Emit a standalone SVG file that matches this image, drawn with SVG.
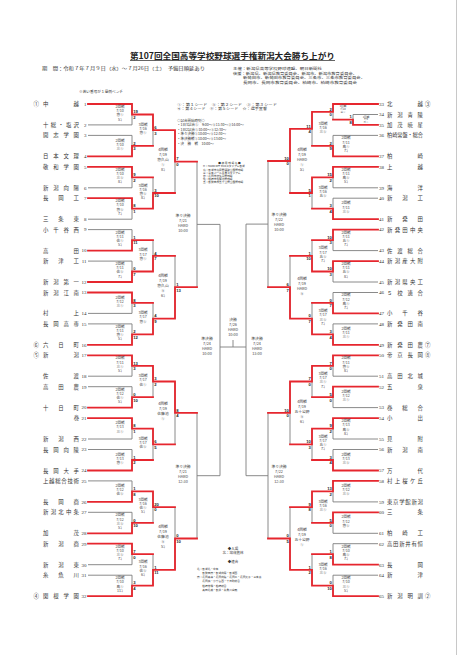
<svg xmlns="http://www.w3.org/2000/svg" width="467" height="655" viewBox="0 0 467 655">
<style>
text{font-family:"Noto Sans CJK JP","Noto Sans",sans-serif;fill:#333}
.t{font-size:8.2px;font-weight:bold;fill:#222}
.h{font-size:4.4px}
.xs{font-size:3.5px}
.v{font-size:2.7px}
.n{font-size:5.4px}
.num{font-size:5px;font-family:"Liberation Serif",serif}
.lb{font-size:3.6px;text-anchor:middle;fill:#444}
.lb5{font-size:3.8px;text-anchor:middle;fill:#444}
.tiny{font-size:2.6px;text-anchor:middle;fill:#444}
.sc{font-size:4.2px;font-weight:bold;font-family:"Liberation Sans",sans-serif;fill:#222}
.se{font-size:4.2px;font-weight:bold;font-family:"Liberation Sans",sans-serif;fill:#222;text-anchor:end}
.g{fill:none;stroke:#7d7d7d;stroke-width:0.9}
.r{fill:none;stroke:#e6262e;stroke-width:1.8;stroke-linecap:square}
</style>
<rect width="467" height="655" fill="#fff"/>
<line x1="456.5" y1="0" x2="456.5" y2="655" stroke="#c8c8c8" stroke-width="1"/>

<g id="header">
<text class="t" x="130" y="58.5" textLength="205" lengthAdjust="spacingAndGlyphs">第107回全国高等学校野球選手権新潟大会勝ち上がり</text>
<line x1="130" y1="60.5" x2="335" y2="60.5" stroke="#222" stroke-width="0.7"/>
<text class="h" x="42" y="69.5" textLength="163" lengthAdjust="spacingAndGlyphs">期　間：令和７年７月９日（水）～７月26日（土）　予備日順延あり</text>
<text class="xs" x="233" y="69.5" textLength="89" lengthAdjust="spacingAndGlyphs">主催：新潟県高等学校野球連盟、朝日新聞社</text>
<text class="xs" x="233" y="74.5" textLength="124" lengthAdjust="spacingAndGlyphs">後援：新潟県、新潟県教育委員会、新潟市、新潟市教育委員会、</text>
<text class="xs" x="243" y="79.3" textLength="122" lengthAdjust="spacingAndGlyphs">新発田市、新発田市教育委員会、三条市、三条市教育委員会、</text>
<text class="xs" x="243" y="84" textLength="114" lengthAdjust="spacingAndGlyphs">長岡市、長岡市教育委員会、柏崎市、柏崎市教育委員会</text>
<text class="xs" x="79" y="93.3" textLength="44" lengthAdjust="spacingAndGlyphs">※若い番号が１塁側ベンチ</text>
</g>

<g id="notes">
<text class="xs" x="177" y="105.6" textLength="100" lengthAdjust="spacingAndGlyphs">①：第１シード　②：第２シード　③：第３シード</text>
<text class="xs" x="177" y="109.6" textLength="90" lengthAdjust="spacingAndGlyphs">④：第４シード　⑤：第５シード　☆：選手宣誓</text>
<text class="xs" x="177" y="122">◇試合開始時刻◇</text>
<text class="xs" x="177" y="126.3">・1日3試合①　9:00～②11:30～③14:00～</text>
<text class="xs" x="177" y="131">・1日2試合①10:00～②12:30～</text>
<text class="xs" x="177" y="135.3">・準々決勝①10:00～②12:30～</text>
<text class="xs" x="177" y="140">・準決勝戦①10:00～②13:00～</text>
<text class="xs" x="177" y="144.6">・決　勝　戦　10:00～</text>
<text class="v" x="229.5" y="163.8" text-anchor="middle">■ 使 用 球 場 名 ■</text>
<text class="v" x="203" y="167.4">H：HARD OFF ECOスタジアム新潟</text>
<text class="v" x="203" y="170.5">鳥：新潟市鳥屋野運動公園野球場</text>
<text class="v" x="203" y="173.6">三：三条パール金属スタジアム</text>
<text class="v" x="203" y="176.7">悠：長岡市悠久山野球場</text>
<text class="v" x="203" y="179.8">佐：柏崎市佐藤池野球場</text>
<text class="v" x="203" y="182.9">五：新発田市五十公野公園野球場</text>
<text class="xs" x="233" y="549.6" text-anchor="middle">◆入場</text>
<text class="xs" x="233" y="554" text-anchor="middle">北：加茂農林</text>
<text class="xs" x="233" y="562.5" text-anchor="middle">◆連合</text>
<text class="v" x="197" y="569.5">北：新潟北・中条</text>
<text class="v" x="197" y="573.8">　　新発田南・新潟向陽・新潟西</text>
<text class="v" x="197" y="578.1">南：長岡高専・長岡向陵・長岡工・長岡大手・三条東</text>
<text class="v" x="197" y="582.4">　　長岡商・小千谷西・十日町総合</text>
<text class="v" x="197" y="586.7">　　柏崎常盤・柏崎総合</text>
<text class="v" x="197" y="591">　　高田北城・新井・糸魚川白嶺</text>
</g>

<g id="connectors">
<path class="g" d="M88 124.9H132M88 135.4H132M88 187.8H132M88 219.2H132M88 229.6H132M88 261.1H132M88 313.4H132M88 323.9H132M88 376.2H132M88 386.7H132M88 439H132M88 449.5H132M88 480.9H132M88 512.3H132M88 564.7H132M88 575.2H132
M132 104V124.9M132 135.4V156.4M132 166.8V187.8M132 198.2V219.2M132 229.6V250.6M132 261.1V282M132 292.5V313.4M132 323.9V344.8M132 355.3V376.2M132 386.7V407.6M132 418.1V439M132 449.5V470.5M132 480.9V501.9M132 512.3V533.3M132 543.7V564.7M132 575.2V596.1
M153 114.5V145.9M153 177.3V208.7M153 240.1V271.5M153 302.9V334.3M153 365.8V397.2M153 428.6V460M153 491.4V522.8M153 554.2V585.6
M175 130.2V193M175 255.8V318.6M175 381.5V444.3M175 507.1V569.9
M197 161.6V287.2M197 412.9V538.5M197 224.4H220M197 475.7H220M220 224.4V475.7M220 347H246M233 340V347
M353 114.5H378M333 135.4H378M333 187.8H378M333 198.2H378M333 250.6H378M333 282H378M333 292.5H378M333 323.9H378M333 376.2H378M333 407.6H378M333 439H378M333 449.5H378M333 501.9H378M333 533.3H378M333 543.7H378M333 575.2H378
M353 114.5V124.9
M333 104V119.7M333 135.4V156.4M333 166.8V187.8M333 198.2V219.2M333 229.6V250.6M333 261.1V282M333 292.5V313.4M333 323.9V344.8M333 355.3V376.2M333 386.7V407.6M333 418.1V439M333 449.5V470.5M333 480.9V501.9M333 512.3V533.3M333 543.7V564.7M333 575.2V596.1
M312 111.8V145.9M312 177.3V208.7M312 240.1V271.5M312 302.9V334.3M312 365.8V397.2M312 428.6V460M312 491.4V522.8M312 554.2V585.6
M290 128.9V193M290 255.8V318.6M290 381.5V444.3M290 507.1V569.9
M268 161V287.2M268 412.9V538.5M268 224.1H246M268 475.7H246M246 224.1V475.7"/>
<path class="r" d="M88 104H132V114.5H153M88 156.4H132V145.9H153M88 166.8H132V177.3H153M88 198.2H132V208.7H153M88 250.6H132V240.1H153M88 282H132V271.5H153M88 292.5H132V302.9H153M88 344.8H132V334.3H153M88 355.3H132V365.8H153M88 407.6H132V397.2H153M88 418.1H132V428.6H153M88 470.5H132V460H153M88 501.9H132V491.4H153M88 533.3H132V522.8H153M88 543.7H132V554.2H153M88 596.1H132V585.6H153
M153 114.5V130.2H175M153 208.7V193H175M153 271.5V255.8H175M153 334.3V318.6H175M153 365.8V381.5H175M153 428.6V444.3H175M153 491.4V507.1H175M153 585.6V569.9H175
M175 130.2V161.6H197M175 318.6V287.2H197M175 381.5V412.9H197M175 569.9V538.5H197
M378 104H333V111.8H312M378 124.9H353V119.7H333M378 156.4H333V145.9H312M378 166.8H333V177.3H312M378 219.2H333V208.7H312M378 229.6H333V240.1H312M378 261.1H333V271.5H312M378 313.4H333V302.9H312M378 344.8H333V334.3H312M378 355.3H333V365.8H312M378 386.7H333V397.2H312M378 418.1H333V428.6H312M378 470.5H333V460H312M378 480.9H333V491.4H312M378 512.3H333V522.8H312M378 564.7H333V554.2H312M378 596.1H333V585.6H312
M312 111.8V128.9H290M312 177.3V193H290M312 271.5V255.8H290M312 334.3V318.6H290M312 365.8V381.5H290M312 428.6V444.3H290M312 491.4V507.1H290M312 585.6V569.9H290
M290 128.9V161H268M290 318.6V287.2H268M290 381.5V412.9H268M290 569.9V538.5H268"/>
</g>

<g id="teams-left">
<g id="team-1"><text class="n" x="33.5" y="106">①</text><text class="n" x="43" y="106" textLength="36" lengthAdjust="spacing">中越</text><text class="num" x="86.5" y="105.8" text-anchor="end">1</text></g>
<g id="team-2"><text class="n" x="43" y="126.9" textLength="36" lengthAdjust="spacing">十総・塩沢</text><text class="num" x="86.5" y="126.7" text-anchor="end">2</text></g>
<g id="team-3"><text class="n" x="43" y="137.4" textLength="36" lengthAdjust="spacing">開志学園</text><text class="num" x="86.5" y="137.2" text-anchor="end">3</text></g>
<g id="team-4"><text class="n" x="43" y="158.4" textLength="36" lengthAdjust="spacing">日本文理</text><text class="num" x="86.5" y="158.2" text-anchor="end">4</text></g>
<g id="team-5"><text class="n" x="43" y="168.8" textLength="36" lengthAdjust="spacing">敬和学園</text><text class="num" x="86.5" y="168.6" text-anchor="end">5</text></g>
<g id="team-6"><text class="n" x="43" y="189.8" textLength="36" lengthAdjust="spacing">新潟向陽</text><text class="num" x="86.5" y="189.6" text-anchor="end">6</text></g>
<g id="team-7"><text class="n" x="43" y="200.2" textLength="36" lengthAdjust="spacing">長岡工</text><text class="num" x="86.5" y="200" text-anchor="end">7</text></g>
<g id="team-8"><text class="n" x="43" y="221.2" textLength="36" lengthAdjust="spacing">三条東</text><text class="num" x="86.5" y="221" text-anchor="end">8</text></g>
<g id="team-9"><text class="n" x="43" y="231.6" textLength="36" lengthAdjust="spacing">小千谷西</text><text class="num" x="86.5" y="231.4" text-anchor="end">9</text></g>
<g id="team-10"><text class="n" x="43" y="252.6" textLength="36" lengthAdjust="spacing">高田</text><text class="num" x="86.5" y="252.4" text-anchor="end">10</text></g>
<g id="team-11"><text class="n" x="43" y="263.1" textLength="36" lengthAdjust="spacing">新津工</text><text class="num" x="86.5" y="262.9" text-anchor="end">11</text></g>
<g id="team-12"><text class="n" x="43" y="284" textLength="36" lengthAdjust="spacing">新潟第一</text><text class="num" x="86.5" y="283.8" text-anchor="end">12</text></g>
<g id="team-13"><text class="n" x="43" y="294.5" textLength="36" lengthAdjust="spacing">新潟江南</text><text class="num" x="86.5" y="294.3" text-anchor="end">13</text></g>
<g id="team-14"><text class="n" x="43" y="315.4" textLength="36" lengthAdjust="spacing">村上</text><text class="num" x="86.5" y="315.2" text-anchor="end">14</text></g>
<g id="team-15"><text class="n" x="43" y="325.9" textLength="36" lengthAdjust="spacing">長岡高専</text><text class="num" x="86.5" y="325.7" text-anchor="end">15</text></g>
<g id="team-16"><text class="n" x="33.5" y="346.8">⑥</text><text class="n" x="43" y="346.8" textLength="36" lengthAdjust="spacing">六日町</text><text class="num" x="86.5" y="346.6" text-anchor="end">16</text></g>
<g id="team-17"><text class="n" x="33.5" y="357.3">⑤</text><text class="n" x="43" y="357.3" textLength="36" lengthAdjust="spacing">新潟</text><text class="num" x="86.5" y="357.1" text-anchor="end">17</text></g>
<g id="team-18"><text class="n" x="43" y="378.2" textLength="36" lengthAdjust="spacing">佐渡</text><text class="num" x="86.5" y="378" text-anchor="end">18</text></g>
<g id="team-19"><text class="n" x="43" y="388.7" textLength="36" lengthAdjust="spacing">高田農</text><text class="num" x="86.5" y="388.5" text-anchor="end">19</text></g>
<g id="team-20"><text class="n" x="43" y="409.6" textLength="36" lengthAdjust="spacing">十日町</text><text class="num" x="86.5" y="409.4" text-anchor="end">20</text></g>
<g id="team-21"><text class="n" x="79.2" y="420.1" text-anchor="end">巻</text><text class="num" x="86.5" y="419.9" text-anchor="end">21</text></g>
<g id="team-22"><text class="n" x="43" y="441" textLength="36" lengthAdjust="spacing">新潟西</text><text class="num" x="86.5" y="440.8" text-anchor="end">22</text></g>
<g id="team-23"><text class="n" x="43" y="451.5" textLength="36" lengthAdjust="spacing">長岡向陵</text><text class="num" x="86.5" y="451.3" text-anchor="end">23</text></g>
<g id="team-24"><text class="n" x="43" y="472.5" textLength="36" lengthAdjust="spacing">長岡大手</text><text class="num" x="86.5" y="472.3" text-anchor="end">24</text></g>
<g id="team-25"><text class="n" x="43" y="482.9" textLength="36" lengthAdjust="spacing">上越総合技術</text><text class="num" x="86.5" y="482.7" text-anchor="end">25</text></g>
<g id="team-26"><text class="n" x="43" y="503.9" textLength="36" lengthAdjust="spacing">長岡商</text><text class="num" x="86.5" y="503.7" text-anchor="end">26</text></g>
<g id="team-27"><text class="n" x="43" y="514.3" textLength="36" lengthAdjust="spacing">新潟北中条</text><text class="num" x="86.5" y="514.1" text-anchor="end">27</text></g>
<g id="team-28"><text class="n" x="43" y="535.3" textLength="36" lengthAdjust="spacing">加茂</text><text class="num" x="86.5" y="535.1" text-anchor="end">28</text></g>
<g id="team-29"><text class="n" x="43" y="545.7" textLength="36" lengthAdjust="spacing">新潟商</text><text class="num" x="86.5" y="545.5" text-anchor="end">29</text></g>
<g id="team-30"><text class="n" x="43" y="566.7" textLength="36" lengthAdjust="spacing">新潟東</text><text class="num" x="86.5" y="566.5" text-anchor="end">30</text></g>
<g id="team-31"><text class="n" x="43" y="577.2" textLength="36" lengthAdjust="spacing">糸魚川</text><text class="num" x="86.5" y="577" text-anchor="end">31</text></g>
<g id="team-32"><text class="n" x="33.5" y="598.1">④</text><text class="n" x="43" y="598.1" textLength="36" lengthAdjust="spacing">関根学園</text><text class="num" x="86.5" y="597.9" text-anchor="end">32</text></g>
</g>

<g id="teams-right">
<g id="team-33"><text class="num" x="379" y="105.8">33</text><text class="n" x="387" y="106" textLength="36" lengthAdjust="spacing">北越</text><text class="n" x="425" y="106">③</text></g>
<g id="team-34"><text class="num" x="379" y="116.3">34</text><text class="n" x="387" y="116.5" textLength="36" lengthAdjust="spacing">新潟青陵</text></g>
<g id="team-35"><text class="num" x="379" y="126.7">35</text><text class="n" x="387" y="126.9" textLength="36" lengthAdjust="spacing">加茂暁星</text></g>
<g id="team-36"><text class="num" x="379" y="137.2">36</text><text class="n" x="387" y="137.4" textLength="36" lengthAdjust="spacingAndGlyphs">柏崎常盤・総合</text></g>
<g id="team-37"><text class="num" x="379" y="158.2">37</text><text class="n" x="387" y="158.4" textLength="36" lengthAdjust="spacing">柏崎</text></g>
<g id="team-38"><text class="num" x="379" y="168.6">38</text><text class="n" x="387" y="168.8" textLength="36" lengthAdjust="spacing">上越</text></g>
<g id="team-39"><text class="num" x="379" y="189.6">39</text><text class="n" x="387" y="189.8" textLength="36" lengthAdjust="spacing">海洋</text></g>
<g id="team-40"><text class="num" x="379" y="200">40</text><text class="n" x="387" y="200.2" textLength="36" lengthAdjust="spacing">新潟工</text></g>
<g id="team-41"><text class="num" x="379" y="221">41</text><text class="n" x="387" y="221.2" textLength="36" lengthAdjust="spacing">新発田</text></g>
<g id="team-42"><text class="num" x="379" y="231.4">42</text><text class="n" x="387" y="231.6" textLength="36" lengthAdjust="spacing">新発田中央</text></g>
<g id="team-43"><text class="num" x="379" y="252.4">43</text><text class="n" x="387" y="252.6" textLength="36" lengthAdjust="spacing">佐渡総合</text></g>
<g id="team-44"><text class="num" x="379" y="262.9">44</text><text class="n" x="387" y="263.1" textLength="36" lengthAdjust="spacing">新潟産大附</text></g>
<g id="team-45"><text class="num" x="379" y="283.8">45</text><text class="n" x="387" y="284" textLength="36" lengthAdjust="spacing">新潟県央工</text></g>
<g id="team-46"><text class="num" x="379" y="294.3">46</text><text class="n" x="387" y="294.5" textLength="36" lengthAdjust="spacing">５校連合</text></g>
<g id="team-47"><text class="num" x="379" y="315.2">47</text><text class="n" x="387" y="315.4" textLength="36" lengthAdjust="spacing">小千谷</text></g>
<g id="team-48"><text class="num" x="379" y="325.7">48</text><text class="n" x="387" y="325.9" textLength="36" lengthAdjust="spacing">新発田南</text></g>
<g id="team-49"><text class="num" x="379" y="346.6">49</text><text class="n" x="387" y="346.8" textLength="36" lengthAdjust="spacing">新発田農</text><text class="n" x="425" y="346.8">⑦</text></g>
<g id="team-50"><text class="num" x="379" y="357.1">50</text><text class="n" x="387" y="357.3" textLength="36" lengthAdjust="spacing">帝京長岡</text><text class="n" x="425" y="357.3">⑧</text></g>
<g id="team-51"><text class="num" x="379" y="378">51</text><text class="n" x="387" y="378.2" textLength="36" lengthAdjust="spacing">高田北城</text></g>
<g id="team-52"><text class="num" x="379" y="388.5">52</text><text class="n" x="387" y="388.7" textLength="36" lengthAdjust="spacing">五泉</text></g>
<g id="team-53"><text class="num" x="379" y="409.4">53</text><text class="n" x="387" y="409.6" textLength="36" lengthAdjust="spacing">巻総合</text></g>
<g id="team-54"><text class="num" x="379" y="419.9">54</text><text class="n" x="387" y="420.1" textLength="36" lengthAdjust="spacing">小出</text></g>
<g id="team-55"><text class="num" x="379" y="440.8">55</text><text class="n" x="387" y="441" textLength="36" lengthAdjust="spacing">見附</text></g>
<g id="team-56"><text class="num" x="379" y="451.3">56</text><text class="n" x="387" y="451.5" textLength="36" lengthAdjust="spacing">新潟南</text></g>
<g id="team-57"><text class="num" x="379" y="472.3">57</text><text class="n" x="387" y="472.5" textLength="36" lengthAdjust="spacing">万代</text></g>
<g id="team-58"><text class="num" x="379" y="482.7">58</text><text class="n" x="387" y="482.9" textLength="36" lengthAdjust="spacing">村上桜ケ丘</text></g>
<g id="team-59"><text class="num" x="379" y="503.7">59</text><text class="n" x="387" y="503.9" textLength="36" lengthAdjust="spacing">東京学館新潟</text></g>
<g id="team-60"><text class="num" x="379" y="514.1">60</text><text class="n" x="387" y="514.3" textLength="36" lengthAdjust="spacing">三条</text></g>
<g id="team-61"><text class="num" x="379" y="535.1">61</text><text class="n" x="387" y="535.3" textLength="36" lengthAdjust="spacing">柏崎工</text></g>
<g id="team-62"><text class="num" x="379" y="545.5">62</text><text class="n" x="387" y="545.7" textLength="36" lengthAdjust="spacing">高田新井有恒</text></g>
<g id="team-63"><text class="num" x="379" y="566.5">63</text><text class="n" x="387" y="566.7" textLength="36" lengthAdjust="spacing">長岡</text></g>
<g id="team-64"><text class="num" x="379" y="577">64</text><text class="n" x="387" y="577.2" textLength="36" lengthAdjust="spacing">新津</text></g>
<g id="team-65"><text class="num" x="379" y="597.9">65</text><text class="n" x="387" y="598.1" textLength="36" lengthAdjust="spacing">新潟明訓</text><text class="n" x="425" y="598.1">②</text></g>
</g>

<g id="matches-left">
<text class="lb" x="120" y="108"><tspan x="120">2回戦</tspan><tspan x="120" dy="4.2">7/10</tspan><tspan x="120" dy="4.2">悠①</tspan><tspan x="120" dy="4.2">5ｺ</tspan></text>
<text class="lb" x="120" y="141.5"><tspan x="120">2回戦</tspan><tspan x="120" dy="4.2">7/10</tspan><tspan x="120" dy="4.2">三①</tspan></text>
<text class="lb" x="120" y="170.8"><tspan x="120">2回戦</tspan><tspan x="120" dy="4.2">7/10</tspan><tspan x="120" dy="4.2">三②</tspan><tspan x="120" dy="4.2">8ｺ</tspan></text>
<text class="lb" x="120" y="202.2"><tspan x="120">2回戦</tspan><tspan x="120" dy="4.2">7/10</tspan><tspan x="120" dy="4.2">悠②</tspan><tspan x="120" dy="4.2">7ｺ</tspan></text>
<text class="lb" x="120" y="233.6"><tspan x="120">2回戦</tspan><tspan x="120" dy="4.2">7/11</tspan><tspan x="120" dy="4.2">佐①</tspan><tspan x="120" dy="4.2">5ｺ</tspan></text>
<text class="lb" x="120" y="265"><tspan x="120">2回戦</tspan><tspan x="120" dy="4.2">7/11</tspan><tspan x="120" dy="4.2">佐②</tspan><tspan x="120" dy="4.2">7ｺ</tspan></text>
<text class="lb" x="120" y="298.5"><tspan x="120">2回戦</tspan><tspan x="120" dy="4.2">7/12</tspan><tspan x="120" dy="4.2">三①</tspan></text>
<text class="lb" x="120" y="327.8"><tspan x="120">2回戦</tspan><tspan x="120" dy="4.2">7/11</tspan><tspan x="120" dy="4.2">悠①</tspan><tspan x="120" dy="4.2">5ｺ</tspan></text>
<text class="lb" x="120" y="359.3"><tspan x="120">2回戦</tspan><tspan x="120" dy="4.2">7/11</tspan><tspan x="120" dy="4.2">三①</tspan><tspan x="120" dy="4.2">5ｺ</tspan></text>
<text class="lb" x="120" y="390.7"><tspan x="120">2回戦</tspan><tspan x="120" dy="4.2">7/12</tspan><tspan x="120" dy="4.2">佐①</tspan><tspan x="120" dy="4.2">5ｺ</tspan></text>
<text class="lb" x="120" y="424.2"><tspan x="120">2回戦</tspan><tspan x="120" dy="4.2">7/13</tspan><tspan x="120" dy="4.2">三①</tspan></text>
<text class="lb" x="120" y="455.6"><tspan x="120">2回戦</tspan><tspan x="120" dy="4.2">7/13</tspan><tspan x="120" dy="4.2">悠①</tspan></text>
<text class="lb" x="120" y="487"><tspan x="120">2回戦</tspan><tspan x="120" dy="4.2">7/12</tspan><tspan x="120" dy="4.2">佐②</tspan></text>
<text class="lb" x="120" y="516.3"><tspan x="120">2回戦</tspan><tspan x="120" dy="4.2">7/12</tspan><tspan x="120" dy="4.2">三②</tspan><tspan x="120" dy="4.2">5ｺ</tspan></text>
<text class="lb" x="120" y="547.7"><tspan x="120">2回戦</tspan><tspan x="120" dy="4.2">7/10</tspan><tspan x="120" dy="4.2">三②</tspan><tspan x="120" dy="4.2">7ｺ</tspan></text>
<text class="lb" x="120" y="579.1"><tspan x="120">2回戦</tspan><tspan x="120" dy="4.2">7/10</tspan><tspan x="120" dy="4.2">鳥①</tspan><tspan x="120" dy="4.2">11ｺ</tspan></text>
<text class="lb" x="143" y="125.8"><tspan x="143">3回戦</tspan><tspan x="143" dy="4.2">7/16</tspan><tspan x="143" dy="4.2">悠①</tspan></text>
<text class="lb" x="143" y="186.5"><tspan x="143">3回戦</tspan><tspan x="143" dy="4.2">7/16</tspan><tspan x="143" dy="4.2">悠②</tspan><tspan x="143" dy="4.2">8ｺ</tspan></text>
<text class="lb" x="143" y="251.4"><tspan x="143">3回戦</tspan><tspan x="143" dy="4.2">7/17</tspan><tspan x="143" dy="4.2">悠①</tspan></text>
<text class="lb" x="143" y="314.2"><tspan x="143">3回戦</tspan><tspan x="143" dy="4.2">7/17</tspan><tspan x="143" dy="4.2">悠②</tspan></text>
<text class="lb" x="143" y="377.1"><tspan x="143">3回戦</tspan><tspan x="143" dy="4.2">7/17</tspan><tspan x="143" dy="4.2">佐①</tspan></text>
<text class="lb" x="143" y="439.9"><tspan x="143">3回戦</tspan><tspan x="143" dy="4.2">7/17</tspan><tspan x="143" dy="4.2">佐②</tspan></text>
<text class="lb" x="143" y="500.6"><tspan x="143">3回戦</tspan><tspan x="143" dy="4.2">7/16</tspan><tspan x="143" dy="4.2">佐①</tspan><tspan x="143" dy="4.2">5ｺ</tspan></text>
<text class="lb" x="143" y="563.4"><tspan x="143">3回戦</tspan><tspan x="143" dy="4.2">7/16</tspan><tspan x="143" dy="4.2">佐②</tspan><tspan x="143" dy="4.2">6ｺ</tspan></text>
<text class="lb5" x="163" y="151.4"><tspan x="163">4回戦</tspan><tspan x="163" dy="5">7/19</tspan><tspan x="163" dy="5">悠久山</tspan><tspan x="163" dy="5">①</tspan><tspan x="163" dy="5">8ｺ</tspan></text>
<text class="lb5" x="163" y="277"><tspan x="163">4回戦</tspan><tspan x="163" dy="5">7/19</tspan><tspan x="163" dy="5">悠久山</tspan><tspan x="163" dy="5">②</tspan><tspan x="163" dy="5">6ｺ</tspan></text>
<text class="lb5" x="163" y="405.2"><tspan x="163">4回戦</tspan><tspan x="163" dy="5">7/19</tspan><tspan x="163" dy="5">佐藤池</tspan><tspan x="163" dy="5">①</tspan></text>
<text class="lb5" x="163" y="528.3"><tspan x="163">4回戦</tspan><tspan x="163" dy="5">7/19</tspan><tspan x="163" dy="5">佐藤池</tspan><tspan x="163" dy="5">②</tspan><tspan x="163" dy="5">5ｺ</tspan></text>
<text class="lb5" x="183" y="216.7"><tspan x="183">準々決勝</tspan><tspan x="183" dy="5">7/21</tspan><tspan x="183" dy="5">HARD</tspan><tspan x="183" dy="5">10:00</tspan></text>
<text class="lb5" x="183" y="468"><tspan x="183">準々決勝</tspan><tspan x="183" dy="5">7/21</tspan><tspan x="183" dy="5">HARD</tspan><tspan x="183" dy="5">12:30</tspan></text>
<text class="lb5" x="207" y="339.6"><tspan x="207">準決勝</tspan><tspan x="207" dy="5.2">7/24</tspan><tspan x="207" dy="5.2">HARD</tspan><tspan x="207" dy="5.2">10:00</tspan></text>
<text class="sc" x="133.2" y="113.2">19</text><text class="sc" x="133.2" y="118.8">2</text>
<text class="sc" x="133.2" y="144.6">2</text><text class="sc" x="133.2" y="150.2">3</text>
<text class="sc" x="133.2" y="176">9</text><text class="sc" x="133.2" y="181.6">2</text>
<text class="sc" x="133.2" y="207.4">8</text><text class="sc" x="133.2" y="213">1</text>
<text class="sc" x="133.2" y="238.8">1</text><text class="sc" x="133.2" y="244.4">11</text>
<text class="sc" x="133.2" y="270.2">0</text><text class="sc" x="133.2" y="275.8">7</text>
<text class="sc" x="133.2" y="301.6">8</text><text class="sc" x="133.2" y="307.2">3</text>
<text class="sc" x="133.2" y="333">2</text><text class="sc" x="133.2" y="338.6">12</text>
<text class="sc" x="133.2" y="364.5">13</text><text class="sc" x="133.2" y="370.1">3</text>
<text class="sc" x="133.2" y="395.9">0</text><text class="sc" x="133.2" y="401.5">10</text>
<text class="sc" x="133.2" y="427.3">8</text><text class="sc" x="133.2" y="432.9">1</text>
<text class="sc" x="133.2" y="458.7">1</text><text class="sc" x="133.2" y="464.3">2</text>
<text class="sc" x="133.2" y="490.1">1</text><text class="sc" x="133.2" y="495.7">8</text>
<text class="sc" x="133.2" y="521.5">0</text><text class="sc" x="133.2" y="527.1">10</text>
<text class="sc" x="133.2" y="552.9">7</text><text class="sc" x="133.2" y="558.5">0</text>
<text class="sc" x="133.2" y="584.3">3</text><text class="sc" x="133.2" y="589.9">4</text>
<text class="sc" x="154.2" y="128.9">6</text><text class="sc" x="154.2" y="134.5">3</text>
<text class="sc" x="154.2" y="191.7">3</text><text class="sc" x="154.2" y="197.3">10</text>
<text class="sc" x="154.2" y="254.5">4</text><text class="sc" x="154.2" y="260.1">7</text>
<text class="sc" x="154.2" y="317.3">4</text><text class="sc" x="154.2" y="322.9">9</text>
<text class="sc" x="154.2" y="380.2">3</text><text class="sc" x="154.2" y="385.8">2</text>
<text class="sc" x="154.2" y="443">6</text><text class="sc" x="154.2" y="448.6">5</text>
<text class="sc" x="154.2" y="505.8">20</text><text class="sc" x="154.2" y="511.4">0</text>
<text class="sc" x="154.2" y="568.6">1</text><text class="sc" x="154.2" y="574.2">11</text>
<text class="sc" x="176.2" y="160.3">7</text><text class="sc" x="176.2" y="165.9">0</text>
<text class="sc" x="176.2" y="285.9">1</text><text class="sc" x="176.2" y="291.5">13</text>
<text class="sc" x="176.2" y="411.6">8</text><text class="sc" x="176.2" y="417.2">4</text>
<text class="sc" x="176.2" y="537.2">0</text><text class="sc" x="176.2" y="542.8">10</text>
</g>

<g id="final">
<text class="lb5" x="233" y="320.6"><tspan x="233">決勝</tspan><tspan x="233" dy="5">7/26</tspan><tspan x="233" dy="5">HARD</tspan><tspan x="233" dy="5">10:00</tspan></text>
</g>

<g id="matches-right">
<text class="tiny" x="366" y="117.6"><tspan x="366">1回戦</tspan><tspan x="366" dy="2.8">7/9</tspan><tspan x="366" dy="2.8">H①</tspan></text>
<text class="tiny" x="343" y="107"><tspan x="343">2回戦</tspan><tspan x="343" dy="3.2">7/10</tspan><tspan x="343" dy="3.2">三①</tspan></text>
<text class="lb" x="346" y="139.4"><tspan x="346">2回戦</tspan><tspan x="346" dy="4.2">7/11</tspan><tspan x="346" dy="4.2">鳥①</tspan><tspan x="346" dy="4.2">7ｺ</tspan></text>
<text class="lb" x="346" y="170.8"><tspan x="346">2回戦</tspan><tspan x="346" dy="4.2">7/11</tspan><tspan x="346" dy="4.2">鳥②</tspan><tspan x="346" dy="4.2">5ｺ</tspan></text>
<text class="lb" x="346" y="204.3"><tspan x="346">2回戦</tspan><tspan x="346" dy="4.2">7/11</tspan><tspan x="346" dy="4.2">三②</tspan></text>
<text class="lb" x="346" y="233.6"><tspan x="346">2回戦</tspan><tspan x="346" dy="4.2">7/11</tspan><tspan x="346" dy="4.2">五①</tspan><tspan x="346" dy="4.2">7ｺ</tspan></text>
<text class="lb" x="346" y="265"><tspan x="346">2回戦</tspan><tspan x="346" dy="4.2">7/11</tspan><tspan x="346" dy="4.2">五②</tspan><tspan x="346" dy="4.2">8ｺ</tspan></text>
<text class="lb" x="346" y="296.4"><tspan x="346">2回戦</tspan><tspan x="346" dy="4.2">7/12</tspan><tspan x="346" dy="4.2">鳥①</tspan><tspan x="346" dy="4.2">7ｺ</tspan></text>
<text class="lb" x="346" y="329.9"><tspan x="346">2回戦</tspan><tspan x="346" dy="4.2">7/11</tspan><tspan x="346" dy="4.2">三①</tspan></text>
<text class="lb" x="346" y="359.3"><tspan x="346">2回戦</tspan><tspan x="346" dy="4.2">7/11</tspan><tspan x="346" dy="4.2">悠②</tspan><tspan x="346" dy="4.2">8ｺ</tspan></text>
<text class="lb" x="346" y="392.8"><tspan x="346">2回戦</tspan><tspan x="346" dy="4.2">7/12</tspan><tspan x="346" dy="4.2">三①</tspan></text>
<text class="lb" x="346" y="422.1"><tspan x="346">2回戦</tspan><tspan x="346" dy="4.2">7/13</tspan><tspan x="346" dy="4.2">鳥②</tspan><tspan x="346" dy="4.2">8ｺ</tspan></text>
<text class="lb" x="346" y="455.6"><tspan x="346">2回戦</tspan><tspan x="346" dy="4.2">7/13</tspan><tspan x="346" dy="4.2">三②</tspan></text>
<text class="lb" x="346" y="487"><tspan x="346">2回戦</tspan><tspan x="346" dy="4.2">7/12</tspan><tspan x="346" dy="4.2">三②</tspan></text>
<text class="lb" x="346" y="518.4"><tspan x="346">2回戦</tspan><tspan x="346" dy="4.2">7/12</tspan><tspan x="346" dy="4.2">悠②</tspan></text>
<text class="lb" x="346" y="547.7"><tspan x="346">2回戦</tspan><tspan x="346" dy="4.2">7/10</tspan><tspan x="346" dy="4.2">鳥②</tspan><tspan x="346" dy="4.2">7ｺ</tspan></text>
<text class="lb" x="346" y="579.1"><tspan x="346">2回戦</tspan><tspan x="346" dy="4.2">7/10</tspan><tspan x="346" dy="4.2">三①</tspan><tspan x="346" dy="4.2">5ｺ</tspan></text>
<text class="lb" x="323" y="124.5"><tspan x="323">3回戦</tspan><tspan x="323" dy="4.2">7/16</tspan><tspan x="323" dy="4.2">三②</tspan></text>
<text class="lb" x="323" y="188.6"><tspan x="323">3回戦</tspan><tspan x="323" dy="4.2">7/16</tspan><tspan x="323" dy="4.2">五②</tspan></text>
<text class="lb" x="323" y="249.3"><tspan x="323">3回戦</tspan><tspan x="323" dy="4.2">7/17</tspan><tspan x="323" dy="4.2">五②</tspan><tspan x="323" dy="4.2">7ｺ</tspan></text>
<text class="lb" x="323" y="312.1"><tspan x="323">3回戦</tspan><tspan x="323" dy="4.2">7/17</tspan><tspan x="323" dy="4.2">三②</tspan><tspan x="323" dy="4.2">7ｺ</tspan></text>
<text class="lb" x="323" y="375"><tspan x="323">3回戦</tspan><tspan x="323" dy="4.2">7/17</tspan><tspan x="323" dy="4.2">三①</tspan><tspan x="323" dy="4.2">7ｺ</tspan></text>
<text class="lb" x="323" y="437.8"><tspan x="323">3回戦</tspan><tspan x="323" dy="4.2">7/17</tspan><tspan x="323" dy="4.2">五①</tspan><tspan x="323" dy="4.2">7ｺ</tspan></text>
<text class="lb" x="323" y="502.7"><tspan x="323">3回戦</tspan><tspan x="323" dy="4.2">7/16</tspan><tspan x="323" dy="4.2">三①</tspan></text>
<text class="lb" x="323" y="565.5"><tspan x="323">3回戦</tspan><tspan x="323" dy="4.2">7/16</tspan><tspan x="323" dy="4.2">三②</tspan></text>
<text class="lb5" x="302" y="150.8"><tspan x="302">4回戦</tspan><tspan x="302" dy="5">7/19</tspan><tspan x="302" dy="5">HARD</tspan><tspan x="302" dy="5">①</tspan><tspan x="302" dy="5">5ｺ</tspan></text>
<text class="lb5" x="302" y="279.5"><tspan x="302">4回戦</tspan><tspan x="302" dy="5">7/19</tspan><tspan x="302" dy="5">HARD</tspan><tspan x="302" dy="5">②</tspan></text>
<text class="lb5" x="302" y="402.7"><tspan x="302">4回戦</tspan><tspan x="302" dy="5">7/19</tspan><tspan x="302" dy="5">五十公野</tspan><tspan x="302" dy="5">②</tspan><tspan x="302" dy="5">6ｺ</tspan></text>
<text class="lb5" x="302" y="530.8"><tspan x="302">4回戦</tspan><tspan x="302" dy="5">7/19</tspan><tspan x="302" dy="5">五十公野</tspan><tspan x="302" dy="5">①</tspan></text>
<text class="lb5" x="279" y="216.4"><tspan x="279">準々決勝</tspan><tspan x="279" dy="5">7/22</tspan><tspan x="279" dy="5">HARD</tspan><tspan x="279" dy="5">10:00</tspan></text>
<text class="lb5" x="279" y="468"><tspan x="279">準々決勝</tspan><tspan x="279" dy="5">7/22</tspan><tspan x="279" dy="5">HARD</tspan><tspan x="279" dy="5">12:30</tspan></text>
<text class="lb5" x="257" y="339.6"><tspan x="257">準決勝</tspan><tspan x="257" dy="5.2">7/24</tspan><tspan x="257" dy="5.2">HARD</tspan><tspan x="257" dy="5.2">13:00</tspan></text>
<text class="se" x="351.8" y="118.4">1</text><text class="se" x="351.8" y="124">8</text>
<text class="se" x="331.8" y="110.5">2</text><text class="se" x="331.8" y="116.1">0</text>
<text class="se" x="331.8" y="144.6">2</text><text class="se" x="331.8" y="150.2">9</text>
<text class="se" x="331.8" y="176">15</text><text class="se" x="331.8" y="181.6">2</text>
<text class="se" x="331.8" y="207.4">3</text><text class="se" x="331.8" y="213">4</text>
<text class="se" x="331.8" y="238.8">10</text><text class="se" x="331.8" y="244.4">3</text>
<text class="se" x="331.8" y="270.2">10</text><text class="se" x="331.8" y="275.8">3</text>
<text class="se" x="331.8" y="301.6">0</text><text class="se" x="331.8" y="307.2">7</text>
<text class="se" x="331.8" y="333">3</text><text class="se" x="331.8" y="338.6">4</text>
<text class="se" x="331.8" y="364.5">7</text><text class="se" x="331.8" y="370.1">0</text>
<text class="se" x="331.8" y="395.9">5</text><text class="se" x="331.8" y="401.5">0</text>
<text class="se" x="331.8" y="427.3">9</text><text class="se" x="331.8" y="432.9">2</text>
<text class="se" x="331.8" y="458.7">3</text><text class="se" x="331.8" y="464.3">4</text>
<text class="se" x="331.8" y="490.1">13</text><text class="se" x="331.8" y="495.7">2</text>
<text class="se" x="331.8" y="521.5">5</text><text class="se" x="331.8" y="527.1">0</text>
<text class="se" x="331.8" y="552.9">1</text><text class="se" x="331.8" y="558.5">8</text>
<text class="se" x="331.8" y="584.3">0</text><text class="se" x="331.8" y="589.9">10</text>
<text class="se" x="310.8" y="127.6">11</text><text class="se" x="310.8" y="133.2">4</text>
<text class="se" x="310.8" y="191.7">5</text><text class="se" x="310.8" y="197.3">1</text>
<text class="se" x="310.8" y="254.5">1</text><text class="se" x="310.8" y="260.1">10</text>
<text class="se" x="310.8" y="317.3">0</text><text class="se" x="310.8" y="322.9">7</text>
<text class="se" x="310.8" y="380.2">7</text><text class="se" x="310.8" y="385.8">0</text>
<text class="se" x="310.8" y="443">10</text><text class="se" x="310.8" y="448.6">3</text>
<text class="se" x="310.8" y="505.8">9</text><text class="se" x="310.8" y="511.4">8</text>
<text class="se" x="310.8" y="568.6">1</text><text class="se" x="310.8" y="574.2">2</text>
<text class="se" x="288.8" y="159.7">10</text><text class="se" x="288.8" y="165.3">0</text>
<text class="se" x="288.8" y="285.9">6</text><text class="se" x="288.8" y="291.5">7</text>
<text class="se" x="288.8" y="411.6">10</text><text class="se" x="288.8" y="417.2">0</text>
<text class="se" x="288.8" y="537.2">0</text><text class="se" x="288.8" y="542.8">5</text>
</g>
</svg>
